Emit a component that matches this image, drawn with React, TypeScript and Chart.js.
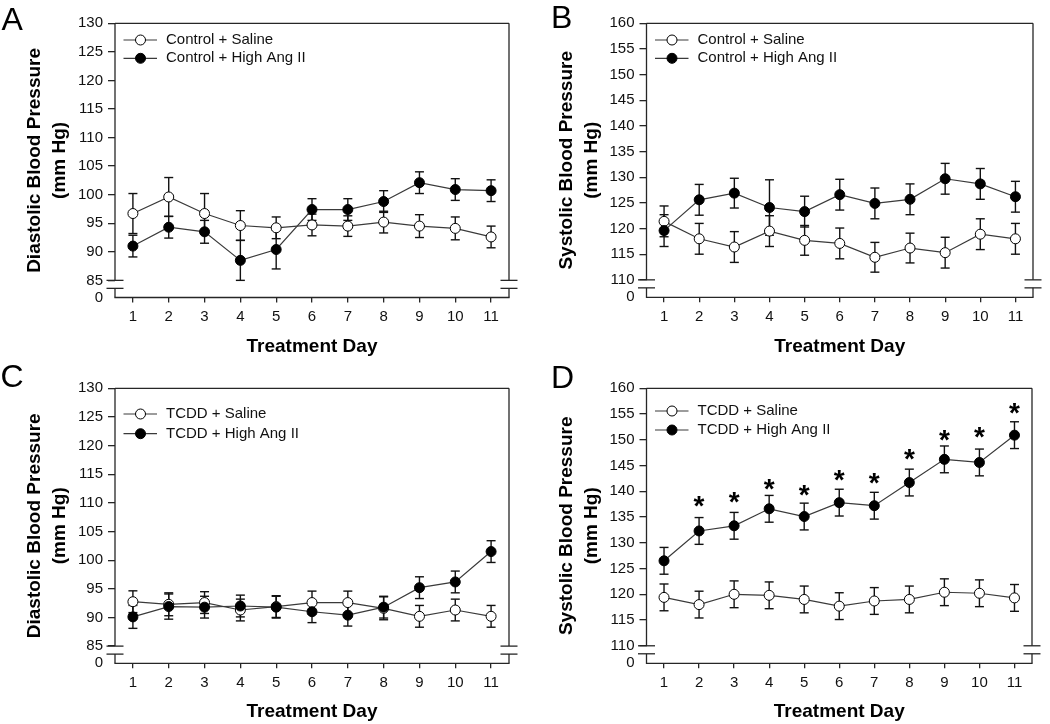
import React, { useEffect, useRef } from 'react';
import { Chart, registerables } from 'chart.js';

Chart.register(...registerables);

const FONT = '"Liberation Sans", Arial, Helvetica, sans-serif';
Chart.defaults.font.family = FONT;

// ---------- data ----------
const days = [1, 2, 3, 4, 5, 6, 7, 8, 9, 10, 11];
const diastolicTicks = [85, 90, 95, 100, 105, 110, 115, 120, 125, 130];
const systolicTicks = [110, 115, 120, 125, 130, 135, 140, 145, 150, 155, 160];
const diastolicFloor = 82; // position of the "0" label below the axis break
const systolicFloor = 106.6;
const floorLabel = '0';

// Panel A: Control, diastolic
const ctrlSalineDBP = [96.7, 99.6, 96.7, 94.6, 94.2, 94.7, 94.5, 95.2, 94.5, 94.1, 92.6];
const ctrlSalineDBPSem = [3.5, 3.4, 3.5, 2.6, 1.9, 1.9, 1.8, 1.9, 2.0, 2.0, 1.9];
const ctrlAngDBP = [91.0, 94.3, 93.5, 88.5, 90.4, 97.4, 97.4, 98.8, 102.1, 100.9, 100.7];
const ctrlAngDBPSem = [1.9, 1.9, 2.0, 3.5, 3.4, 1.9, 1.9, 1.9, 1.9, 1.9, 1.9];

// Panel B: Control, systolic
const ctrlSalineSBP = [121.4, 118.0, 116.4, 119.5, 117.7, 117.1, 114.4, 116.2, 115.3, 118.9, 118.0];
const ctrlSalineSBPSem = [3.0, 3.0, 3.0, 3.0, 2.9, 3.0, 2.9, 2.9, 3.0, 3.0, 3.0];
const ctrlAngSBP = [119.6, 125.6, 126.9, 124.1, 123.3, 126.6, 124.9, 125.7, 129.7, 128.7, 126.2];
const ctrlAngSBPSem = [3.1, 3.0, 2.9, 5.4, 3.0, 3.0, 3.0, 3.0, 3.0, 3.0, 3.0];

// Panel C: TCDD, diastolic
const tcddSalineDBP = [92.75, 92.3, 92.6, 91.3, 91.9, 92.6, 92.6, 91.6, 90.2, 91.3, 90.2];
const tcddSalineDBPSem = [1.9, 2.0, 1.9, 1.9, 1.9, 2.0, 2.0, 2.0, 1.9, 1.9, 1.9];
const tcddAngDBP = [90.1, 91.9, 91.8, 92.0, 91.8, 91.0, 90.4, 91.8, 95.2, 96.2, 101.5];
const tcddAngDBPSem = [2.0, 2.2, 1.9, 1.9, 1.9, 1.9, 1.9, 1.9, 1.9, 1.9, 1.9];

// Panel D: TCDD, systolic
const tcddSalineSBP = [119.4, 118.0, 120.0, 119.8, 119.0, 117.7, 118.7, 119.0, 120.4, 120.2, 119.3];
const tcddSalineSBPSem = [2.6, 2.6, 2.6, 2.6, 2.6, 2.6, 2.6, 2.6, 2.6, 2.6, 2.6];
const tcddAngSBP = [126.5, 132.3, 133.3, 136.6, 135.1, 137.8, 137.2, 141.7, 146.2, 145.6, 150.9];
const tcddAngSBPSem = [2.6, 2.6, 2.6, 2.6, 2.6, 2.6, 2.6, 2.6, 2.6, 2.6, 2.6];
const tcddAngSBPStars = [null, 138.4, 139.1, 141.7, 140.6, 143.5, 142.8, 147.5, 151.3, 151.9, 156.4];

const controlLabels = ['Control + Saline', 'Control + High Ang II'];
const tcddLabels = ['TCDD + Saline', 'TCDD + High Ang II'];
const xTitle = 'Treatment Day';
const unitLine = '(mm Hg)';

// ---------- layout ----------
const W = 525;
const H = 362;
const AXIS = '#262626';
const LINE = '#3a3a3a';
const INK = '#111111';

type Panel = {
  letter: string;
  left: number;
  top: number;
  area: { l: number; t: number; r: number; b: number };
  yTitle: string;
  yTicks: number[];
  yFloor: number;
  yTitleX: number;
  xTitleY: number;
  legendY: number;
  legendGap: number;
  letterX: number;
  letterY: number;
  labels: string[];
  saline: number[];
  salineSem: number[];
  ang: number[];
  angSem: number[];
  stars?: (number | null)[];
};

const panels: Panel[] = [
  {
    letter: 'A', left: 0, top: 0,
    area: { l: 115, t: 23.3, r: 509, b: 297.5 },
    yTitle: 'Diastolic Blood Pressure', yTicks: diastolicTicks, yFloor: diastolicFloor,
    yTitleX: 35, xTitleY: 347, legendY: 40, legendGap: 18.3, letterX: 1.5, letterY: 29.5,
    labels: controlLabels,
    saline: ctrlSalineDBP, salineSem: ctrlSalineDBPSem, ang: ctrlAngDBP, angSem: ctrlAngDBPSem,
  },
  {
    letter: 'B', left: 525, top: 0,
    area: { l: 646.5, t: 23.3, r: 1033, b: 297.3 },
    yTitle: 'Systolic Blood Pressure', yTicks: systolicTicks, yFloor: systolicFloor,
    yTitleX: 566.7, xTitleY: 347, legendY: 40, legendGap: 18.3, letterX: 551, letterY: 27.5,
    labels: controlLabels,
    saline: ctrlSalineSBP, salineSem: ctrlSalineSBPSem, ang: ctrlAngSBP, angSem: ctrlAngSBPSem,
  },
  {
    letter: 'C', left: 0, top: 362,
    area: { l: 115, t: 388.3, r: 509, b: 663.3 },
    yTitle: 'Diastolic Blood Pressure', yTicks: diastolicTicks, yFloor: diastolicFloor,
    yTitleX: 35, xTitleY: 711.8, legendY: 414, legendGap: 19.7, letterX: 0.5, letterY: 387,
    labels: tcddLabels,
    saline: tcddSalineDBP, salineSem: tcddSalineDBPSem, ang: tcddAngDBP, angSem: tcddAngDBPSem,
  },
  {
    letter: 'D', left: 525, top: 362,
    area: { l: 646.5, t: 388.3, r: 1032, b: 663.3 },
    yTitle: 'Systolic Blood Pressure', yTicks: systolicTicks, yFloor: systolicFloor,
    yTitleX: 566.7, xTitleY: 711.8, legendY: 411, legendGap: 19, letterX: 551, letterY: 388,
    labels: tcddLabels,
    saline: tcddSalineSBP, salineSem: tcddSalineSBPSem, ang: tcddAngSBP, angSem: tcddAngSBPSem,
    stars: tcddAngSBPStars,
  },
];

function line(ctx: CanvasRenderingContext2D, x1: number, y1: number, x2: number, y2: number) {
  ctx.beginPath();
  ctx.moveTo(x1, y1);
  ctx.lineTo(x2, y2);
  ctx.stroke();
}

function makeDecor(p: Panel) {
  const sems = [p.salineSem, p.angSem];
  const means = [p.saline, p.ang];
  return {
    id: 'panelDecor' + p.letter,
    beforeDatasetsDraw(chart: any) {
      const ctx: CanvasRenderingContext2D = chart.ctx;
      const xs = chart.scales.x;
      const ys = chart.scales.y;
      const { left, top, right, bottom } = chart.chartArea;
      ctx.save();
      // frame with axis breaks
      const yb1 = ys.getPixelForValue(p.yTicks[0]);
      const yb2 = yb1 + 8;
      ctx.strokeStyle = AXIS;
      ctx.lineWidth = 1.3;
      line(ctx, left, top, right, top);
      line(ctx, left - 0.6, bottom, right + 0.6, bottom);
      [left, right].forEach((x) => {
        line(ctx, x, top, x, yb1);
        line(ctx, x, yb2, x, bottom);
        line(ctx, x - 8.5, yb1, x + 8.5, yb1);
        line(ctx, x - 8.5, yb2, x + 8.5, yb2);
      });
      // error bars
      ctx.strokeStyle = INK;
      ctx.lineWidth = 1.4;
      for (let s = 0; s < 2; s++) {
        days.forEach((d, i) => {
          const x = xs.getPixelForValue(d);
          const yt = ys.getPixelForValue(means[s][i] + sems[s][i]);
          const ybt = ys.getPixelForValue(means[s][i] - sems[s][i]);
          line(ctx, x, yt, x, ybt);
          line(ctx, x - 4.5, yt, x + 4.5, yt);
          line(ctx, x - 4.5, ybt, x + 4.5, ybt);
        });
      }
      ctx.restore();
    },
    afterDatasetsDraw(chart: any) {
      const ctx: CanvasRenderingContext2D = chart.ctx;
      const xs = chart.scales.x;
      const ys = chart.scales.y;
      const { left } = chart.chartArea;
      ctx.save();
      // legend
      chart.data.datasets.forEach((ds: any, i: number) => {
        const y = p.legendY - p.top + i * p.legendGap;
        ctx.strokeStyle = ds.borderColor;
        ctx.lineWidth = ds.borderWidth;
        line(ctx, left + 8.5, y, left + 42, y);
        ctx.beginPath();
        ctx.arc(left + 25.5, y, ds.pointRadius, 0, Math.PI * 2);
        ctx.fillStyle = ds.pointBackgroundColor;
        ctx.fill();
        ctx.lineWidth = ds.pointBorderWidth;
        ctx.strokeStyle = ds.pointBorderColor;
        ctx.stroke();
        ctx.fillStyle = INK;
        ctx.font = '15px ' + FONT;
        ctx.textAlign = 'left';
        ctx.textBaseline = 'middle';
        ctx.fillText(ds.label, left + 51, y);
      });
      // significance stars
      if (p.stars) {
        ctx.fillStyle = '#000';
        ctx.font = 'bold 28px ' + FONT;
        ctx.textAlign = 'center';
        ctx.textBaseline = 'alphabetic';
        p.stars.forEach((v, i) => {
          if (v == null) return;
          ctx.fillText('*', xs.getPixelForValue(days[i]), ys.getPixelForValue(v) + 15.5);
        });
      }
      // panel letter
      ctx.fillStyle = '#000';
      ctx.font = '32px ' + FONT;
      ctx.textAlign = 'left';
      ctx.textBaseline = 'alphabetic';
      ctx.fillText(p.letter, p.letterX - p.left, p.letterY - p.top);
      ctx.restore();
    },
  };
}

function makeConfig(p: Panel): any {
  const tickFont = { family: FONT, size: 15 };
  const titleFont = { family: FONT, size: 19, weight: 'bold' as const };
  const xTitleLH = 19 * 1.2;
  const yTitleLH = 19 * 1.3;
  const dataset = (label: string, values: number[], filled: boolean) => ({
    label,
    data: days.map((d, i) => ({ x: d, y: values[i] })),
    borderColor: LINE,
    borderWidth: 1.2,
    pointRadius: 5,
    pointBorderWidth: 1,
    pointBackgroundColor: filled ? '#000000' : '#ffffff',
    pointBorderColor: '#000000',
    order: filled ? 0 : 1,
    tension: 0,
  });
  return {
    type: 'line',
    data: {
      datasets: [dataset(p.labels[0], p.saline, false), dataset(p.labels[1], p.ang, true)],
    },
    options: {
      responsive: false,
      maintainAspectRatio: false,
      animation: false,
      devicePixelRatio: 1,
      events: [],
      layout: {
        padding: { top: p.area.t - p.top, right: p.left + W - p.area.r, left: 0, bottom: 0 },
      },
      plugins: { legend: { display: false }, tooltip: { enabled: false } },
      scales: {
        x: {
          type: 'linear',
          min: 0.5,
          max: 11.5,
          afterBuildTicks: (s: any) => {
            s.ticks = days.map((v) => ({ value: v }));
          },
          afterFit: (s: any) => {
            s.height = p.top + H - p.area.b;
          },
          ticks: { autoSkip: false, padding: 5.5, font: tickFont, color: INK, maxRotation: 0 },
          grid: { display: true, drawOnChartArea: false, tickLength: 5, color: AXIS, lineWidth: 1.3 },
          border: { display: false },
          title: {
            display: true,
            text: xTitle,
            color: '#000',
            font: { ...titleFont, lineHeight: 1.2 },
            padding: { top: 0, bottom: p.top + H - p.xTitleY - xTitleLH / 2 },
          },
        },
        y: {
          type: 'linear',
          min: p.yFloor,
          max: p.yTicks[p.yTicks.length - 1],
          afterBuildTicks: (s: any) => {
            s.ticks = [p.yFloor, ...p.yTicks].map((v) => ({ value: v }));
          },
          afterFit: (s: any) => {
            s.width = p.area.l - p.left;
          },
          ticks: {
            autoSkip: false,
            padding: 5,
            font: tickFont,
            color: INK,
            callback: (v: number) => (v === p.yFloor ? floorLabel : String(v)),
          },
          grid: {
            display: true,
            drawOnChartArea: false,
            tickLength: 7,
            color: AXIS,
            lineWidth: 1.3,
            tickColor: (c: any) => (c.tick && c.tick.value === p.yFloor ? 'rgba(0,0,0,0)' : AXIS),
          },
          border: { display: false },
          title: {
            display: true,
            text: [p.yTitle, unitLine],
            color: '#000',
            font: { ...titleFont, lineHeight: 1.3 },
            padding: { top: p.yTitleX - p.left - yTitleLH / 2, bottom: 0 },
          },
        },
      },
    },
    plugins: [makeDecor(p)],
  };
}

function PanelChart({ p }: { p: Panel }) {
  const ref = useRef<HTMLCanvasElement>(null);
  useEffect(() => {
    if (!ref.current) return;
    const chart = new Chart(ref.current, makeConfig(p));
    return () => chart.destroy();
  }, [p]);
  return (
    <canvas
      ref={ref}
      width={W}
      height={H}
      style={{ position: 'absolute', left: p.left, top: p.top, width: W, height: H, display: 'block' }}
    />
  );
}

export default function App() {
  return (
    <div
      style={{
        position: 'absolute',
        left: 0,
        top: 0,
        width: 1050,
        height: 724,
        background: '#ffffff',
        overflow: 'hidden',
      }}
    >
      {panels.map((p) => (
        <PanelChart key={p.letter} p={p} />
      ))}
    </div>
  );
}
